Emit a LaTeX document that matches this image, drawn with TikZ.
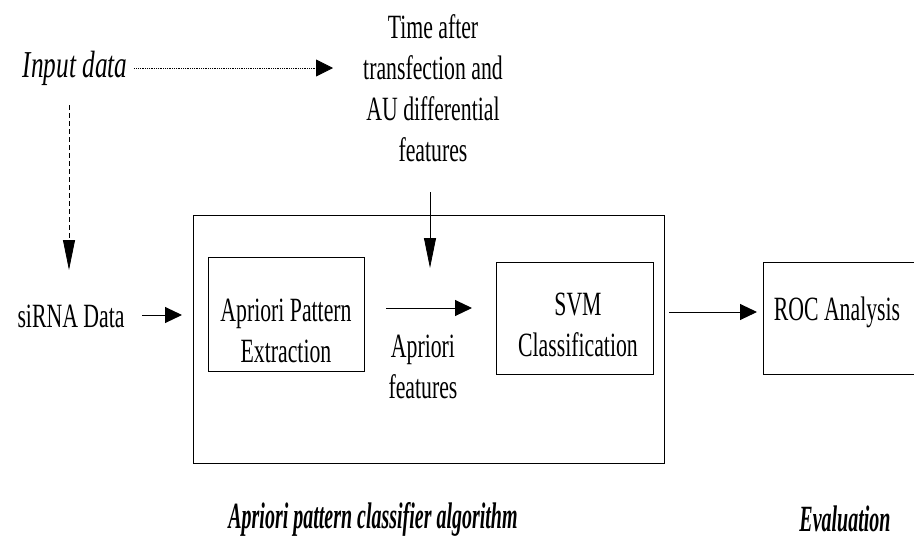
\documentclass[tikz,border=0pt]{standalone}
\usepackage{fontspec}
\setmainfont{Liberation Serif}[FakeStretch=0.64]
\newfontfamily\bifont{Liberation Serif}[FakeStretch=0.54]
\newfontfamily\itfont{Liberation Serif}[FakeStretch=0.665]
\usetikzlibrary{arrows.meta}
\begin{document}
\begin{tikzpicture}[x=1pt,y=-1pt,
  txt/.style={inner sep=0pt, align=center, font=\fontsize{34}{41}\selectfont},
  box/.style={draw, line width=0.8pt, inner sep=0pt},
  harrow/.style={line width=1pt, -{Triangle[length=17pt,width=16pt]}},
  varrow/.style={line width=0.8pt, -{Triangle[length=30pt,width=12pt]}}]
\useasboundingbox (0,0) rectangle (914,549);
% texts
\node[txt, font=\fontsize{38}{41}\selectfont\itfont\itshape] (input) at (75,68) {Input data};
\node[txt] (time) at (433,88) {Time after\\transfection and\\AU differential\\features};
\node[txt] (sirna) at (71,316) {siRNA Data};
% boxes
\node[box, minimum width=471, minimum height=248] (outer) at (428.5,339) {};
\node[box, minimum width=156, minimum height=114] (ape) at (286,314) {};
\node[box, minimum width=157, minimum height=112] (svm) at (574.5,318) {};
\node[box, minimum width=160, minimum height=112] (roc) at (843,318) {};
\node[txt] (apetxt) at (286,331) {Apriori Pattern\\Extraction};
\node[txt] (svmtxt) at (578,325) {SVM\\Classification};
\node[txt] (roctxt) at (837,312) {ROC Analysis};
\node[txt] (aprf) at (423,367) {Apriori\\features};
\node[txt, font=\fontsize{37}{41}\selectfont\bifont\bfseries\itshape] (alg) at (373,519) {Apriori pattern classifier algorithm};
\node[txt, font=\fontsize{37}{41}\selectfont\bifont\bfseries\itshape] (evl) at (845,519) {Evaluation};
% connector end points
\coordinate (dotend) at (333,68);
\coordinate (dashstart) at (69,105);
\coordinate (dashend) at (69,270);
\coordinate (vstart) at (430,192);
\coordinate (vend) at (430,268);
\coordinate (sa) at (142,315);
\coordinate (sb) at (182,315);
\coordinate (aa) at (386,308);
\coordinate (ab) at (472,308);
\coordinate (ra) at (669,312);
\coordinate (rb) at (757,312);
% connectors
\draw[line width=0.8pt, densely dotted, -{Triangle[length=17pt,width=17pt]}] ([xshift=7pt]input.east) -- (dotend);
\draw[varrow, dash pattern=on 5pt off 3pt] (dashstart) -- (dashend);
\draw[varrow] (vstart) -- (vend);
\draw[harrow] (sa) -- (sb);
\draw[harrow] (aa) -- (ab);
\draw[harrow] (ra) -- (rb);
\end{tikzpicture}
\end{document}
